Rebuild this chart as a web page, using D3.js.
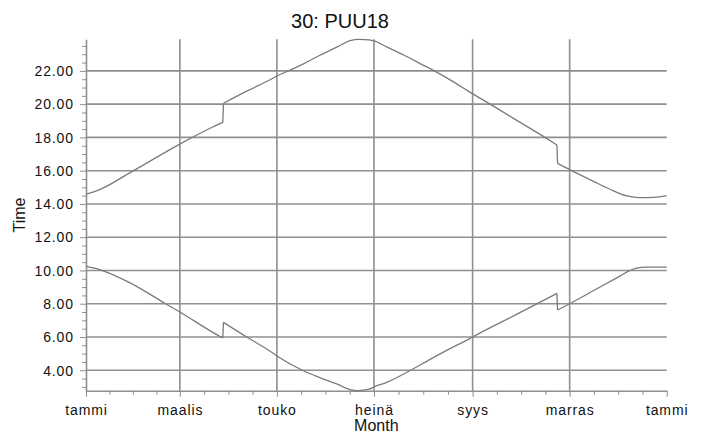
<!DOCTYPE html>
<html>
<head>
<meta charset="utf-8">
<script src="https://cdn.jsdelivr.net/npm/d3@7"></script>
<style>
  html, body { margin: 0; padding: 0; background: #fff; }
  svg { display: block; font-family: "Liberation Sans", Arial, sans-serif; }
</style>
</head>
<body>
<svg id="chart" width="704" height="435"></svg>
<script>
// ---- data (day of year, value in hours) ----
const titleText = "30: PUU18";
const xTitle = "Month";
const yTitle = "Time";

const monthTickDays = [0, 59, 120, 181, 243, 304, 365];
const monthLabels = ["tammi", "maalis", "touko", "heinä", "syys", "marras", "tammi"];

const yTickValues = [4, 6, 8, 10, 12, 14, 16, 18, 20, 22];

const sunsetDays = [0, 9, 28, 59, 80, 86, 86.4, 101, 116, 121, 126, 137, 147, 158, 166, 172, 178, 181, 189, 200, 210, 219, 231, 241, 254, 270, 288.5, 296, 296.4, 304, 319, 329, 340, 348, 357, 365];
const sunsetValues = [14.59, 14.88, 15.9, 17.6, 18.64, 18.9, 20.05, 20.78, 21.48, 21.74, 21.95, 22.44, 22.94, 23.44, 23.82, 23.9, 23.86, 23.8, 23.44, 22.94, 22.44, 22.0, 21.34, 20.74, 20.0, 19.07, 18.0, 17.54, 16.44, 16.06, 15.36, 14.9, 14.48, 14.38, 14.4, 14.5];

const sunriseDays = [0, 9, 28, 50, 59, 80, 86, 86.4, 101, 116, 121, 136, 147, 158, 166, 171, 178, 181, 189, 204, 216, 230, 241, 243, 270, 296, 296.4, 304, 320, 335, 342, 346, 352, 365];
const sunriseValues = [10.24, 10.04, 9.24, 8.0, 7.5, 6.26, 5.94, 6.88, 6.0, 5.13, 4.8, 4.0, 3.56, 3.16, 2.84, 2.78, 2.86, 3.0, 3.27, 4.0, 4.64, 5.36, 5.89, 6.0, 7.33, 8.62, 7.62, 8.0, 8.84, 9.63, 10.0, 10.14, 10.2, 10.2];

// ---- layout ----
const svg = d3.select("#chart");
const mLeft = 86, mRight = 666.7, mTop = 39.3, mBottom = 390.7;

const x = d3.scaleLinear().domain([0, 365]).range([mLeft, mRight]);
const y = d3.scaleLinear().domain([2.77, 23.9]).range([mBottom, mTop]);

const gridColor = "#8f8f8f";
const lineColor = "#7a7a7a";
const textColor = "#111";

// minor tick values
const minorX = [];
for (let i = 0; i < monthTickDays.length - 1; i++) {
  const a = monthTickDays[i], b = monthTickDays[i + 1];
  for (let k = 1; k < 4; k++) minorX.push(a + (b - a) * k / 4);
}
const minorY = d3.range(3, 24, 0.5).filter(v => v >= 2.77 && v <= 23.9 && !yTickValues.includes(v));

// gridlines
const grid = svg.append("g");
grid.selectAll("line.h").data(yTickValues).join("line")
  .attr("class", "h")
  .attr("x1", mLeft).attr("x2", mRight)
  .attr("y1", d => y(d)).attr("y2", d => y(d))
  .attr("stroke", gridColor).attr("stroke-width", 1.6);
grid.selectAll("line.v").data(monthTickDays.slice(1, -1)).join("line")
  .attr("class", "v")
  .attr("x1", d => x(d)).attr("x2", d => x(d))
  .attr("y1", mTop).attr("y2", mBottom)
  .attr("stroke", gridColor).attr("stroke-width", 1.6);

// axes
function styleAxis(g) {
  g.select(".domain").attr("stroke", gridColor).attr("stroke-width", 1.6);
  g.selectAll(".tick line").attr("stroke", gridColor).attr("stroke-width", 1);
  g.selectAll("text").attr("fill", textColor).attr("font-size", 14)
    .attr("font-family", "'Liberation Sans', Arial, sans-serif")
    .style("letter-spacing", "0.9px");
}

const yAxis = svg.append("g").attr("transform", `translate(${mLeft},0)`)
  .call(d3.axisLeft(y).tickValues(yTickValues).tickFormat(d3.format(".2f")).tickSize(6).tickSizeOuter(0).tickPadding(6));
styleAxis(yAxis);
yAxis.selectAll("text").attr("dy", "0.34em");

const yMinor = svg.append("g").attr("transform", `translate(${mLeft},0)`)
  .call(d3.axisLeft(y).tickValues(minorY).tickFormat("").tickSize(4).tickSizeOuter(0));
yMinor.select(".domain").remove();
yMinor.selectAll(".tick line").attr("stroke", gridColor);

const xAxis = svg.append("g").attr("transform", `translate(0,${mBottom})`)
  .call(d3.axisBottom(x).tickValues(monthTickDays).tickFormat((d, i) => monthLabels[i]).tickSize(6).tickSizeOuter(0).tickPadding(6));
styleAxis(xAxis);
xAxis.selectAll("text").attr("dy", "0.9em");

const xMinor = svg.append("g").attr("transform", `translate(0,${mBottom})`)
  .call(d3.axisBottom(x).tickValues(minorX).tickFormat("").tickSize(4).tickSizeOuter(0));
xMinor.select(".domain").remove();
xMinor.selectAll(".tick line").attr("stroke", gridColor);

// series: smooth segments between the clock-change jumps, jumps drawn straight
const smooth = d3.line().curve(d3.curveMonotoneX).x(d => x(d[0])).y(d => y(d[1]));
const straight = d3.line().x(d => x(d[0])).y(d => y(d[1]));

function drawSeries(days, values) {
  const pts = days.map((d, i) => [d, values[i]]);
  const segments = [[pts[0]]];
  const jumps = [];
  for (let i = 1; i < pts.length; i++) {
    if (pts[i][0] - pts[i - 1][0] < 1) {
      jumps.push([pts[i - 1], pts[i]]);
      segments.push([pts[i]]);
    } else {
      segments[segments.length - 1].push(pts[i]);
    }
  }
  const g = svg.append("g").attr("fill", "none").attr("stroke", lineColor)
    .attr("stroke-width", 1.3).attr("stroke-linejoin", "round");
  segments.forEach(s => g.append("path").datum(s).attr("d", smooth));
  jumps.forEach(j => g.append("path").datum(j).attr("d", straight));
}
drawSeries(sunsetDays, sunsetValues);
drawSeries(sunriseDays, sunriseValues);

// titles
svg.append("text").attr("x", 340).attr("y", 28).attr("text-anchor", "middle")
  .attr("font-size", 20).attr("fill", textColor).text(titleText);
svg.append("text").attr("x", (mLeft + mRight) / 2).attr("y", 431).attr("text-anchor", "middle")
  .attr("font-size", 16).attr("fill", textColor).text(xTitle);
svg.append("text").attr("transform", `translate(25,${(mTop + mBottom) / 2}) rotate(-90)`)
  .attr("text-anchor", "middle").attr("font-size", 16).attr("fill", textColor).text(yTitle);
</script>
</body>
</html>
